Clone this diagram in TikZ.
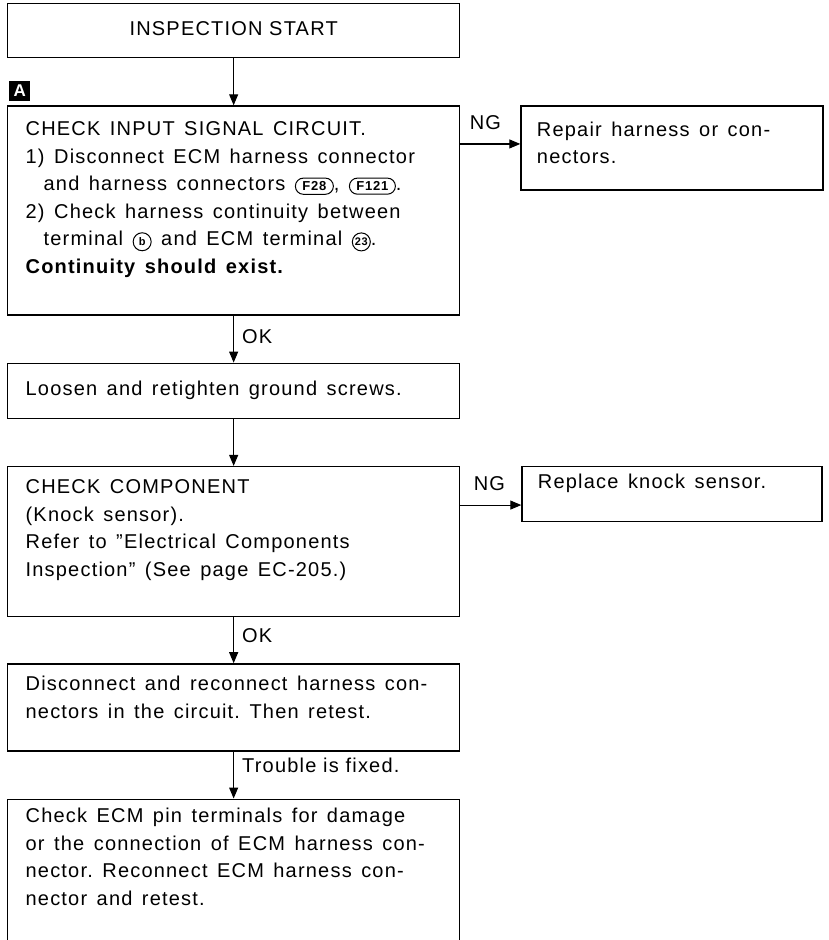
\documentclass[tikz,border=0pt]{standalone}
\usepackage{fontspec}
\setmainfont{Liberation Sans}[LetterSpace=6.0]
\usetikzlibrary{positioning,arrows.meta}

% small framed marks inside the running text
\newcommand{\connid}[1]{\tikz[baseline=(k.base)]\node[tag, rounded corners=8pt, inner xsep=7pt, inner ysep=3.5pt] (k) {#1};}
\newcommand{\pinno}[1]{\tikz[baseline=(k.base)]\node[tag, circle, inner sep=0pt, minimum size=18pt, font=\fontsize{11}{11}\selectfont\bfseries] (k) {#1};}
\newcommand{\padb}[1]{\rule[-#1]{0pt}{#1}}
\frenchspacing

\begin{document}
\begin{tikzpicture}[
  x=1pt, y=-1pt,
  font=\fontsize{20}{27.5}\selectfont,
  frame/.style={draw, line width=1.3pt, anchor=north west, text width=452pt,
                inner xsep=0pt, inner ysep=4pt},
  box/.style={frame, align=left, execute at begin node={\leftskip=18pt\spaceskip=9.5pt}},
  sidebox/.style={frame, align=left, text width=302pt, execute at begin node={\leftskip=16pt\spaceskip=9.5pt}},
  secmark/.style={fill=black, text=white, font=\fontsize{17}{17}\selectfont\bfseries,
                  minimum width=21pt, minimum height=20pt, inner sep=0pt},
  tag/.style={draw, line width=1pt, text width={}, minimum width=0pt, minimum height=0pt,
              font=\fontsize{13}{13}\selectfont\bfseries},
  flow/.style={->, line width=1.1pt},
  >={Triangle[length=11pt, width=9pt]},
  lbl/.style={inner sep=2pt},
]
  \useasboundingbox (0,0) rectangle (829,940);

  % Main column
  \node[frame, align=center, minimum height=54pt] (start) at (7,3) {INSPECTION START\padb{5pt}};
  \node[box, minimum height=209pt, below=47pt of start.south west, anchor=north west] (input)
    {CHECK INPUT SIGNAL CIRCUIT.\\
     1) Disconnect ECM harness connector\\
     \hspace*{18pt}and harness connectors \connid{F28}, \connid{F121}.\\
     2) Check harness continuity between\\
     \hspace*{18pt}terminal \pinno{b} and ECM terminal \pinno{23}.\\
     \textbf{Continuity should exist.}\padb{26pt}};
  \node[box, minimum height=55pt, below=47pt of input.south west, anchor=north west] (loosen)
    {Loosen and retighten ground screws.};
  \node[box, minimum height=150pt, below=47pt of loosen.south west, anchor=north west] (comp)
    {CHECK COMPONENT\\
     (Knock sensor).\\
     Refer to ''Electrical Components\\
     Inspection'' (See page EC-205.)\padb{27pt}};
  \node[box, minimum height=87pt, below=46pt of comp.south west, anchor=north west] (reconn)
    {Disconnect and reconnect harness con-\\
     nectors in the circuit. Then retest.\padb{20pt}};
  \node[box, minimum height=145pt, below=47pt of reconn.south west, anchor=north west] (ecm)
    {Check ECM pin terminals for damage\\
     or the connection of ECM harness con-\\
     nector. Reconnect ECM harness con-\\
     nector and retest.\padb{30pt}};

  % Side boxes
  \node[sidebox, minimum height=84pt, right=60pt of input.north east, anchor=north west] (repair)
    {Repair harness or con-\\nectors.\padb{10pt}};
  \node[sidebox, text width=300pt, minimum height=55pt, right=61pt of comp.north east, anchor=north west] (replace)
    {Replace knock sensor.\padb{25pt}};

  \node[secmark, above right=4pt and 2pt of input.north west] (secA) {A};

  % Connectors
  \draw[flow] (start) -- (input);
  \draw[flow] (input) -- node[lbl, right=6pt, pos=0.45] {OK} (loosen);
  \draw[flow] (loosen) -- (comp);
  \draw[flow] (comp) -- node[lbl, right=6pt, pos=0.4] {OK} (reconn);
  \draw[flow] (reconn) -- node[lbl, right=6pt, pos=0.3] {Trouble is fixed.} (ecm);
  \draw[flow] ([yshift=4pt]repair.west -| input.east) -- node[lbl, above right=12pt and 7pt, pos=0] {NG} ([yshift=4pt]repair.west);
  \draw[flow] ([yshift=-11pt]replace.west -| comp.east) -- node[lbl, above right=12pt and 11pt, pos=0] {NG} ([yshift=-11pt]replace.west);
\end{tikzpicture}
\end{document}
